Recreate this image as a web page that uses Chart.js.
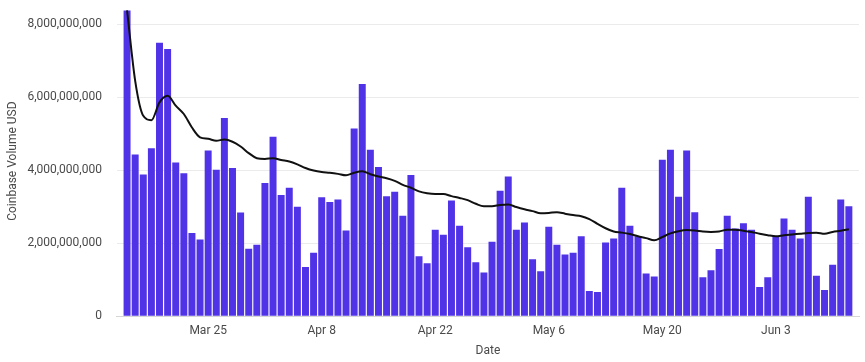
<!DOCTYPE html>
<html>
<head>
<meta charset="utf-8">
<script src="https://cdn.jsdelivr.net/npm/chart.js@4/dist/chart.umd.min.js"></script>
<style>
  html, body { margin: 0; padding: 0; background: #fff; }
  #wrap { width: 865px; height: 362px; }
</style>
</head>
<body>
<div id="wrap"><canvas id="volumeChart"></canvas></div>
<script>
// daily volume, billions USD, starting Mar 15
const startDate = "2022-03-15";
const dayCount = 90;

const volume = [
  8.38, 4.43, 3.88, 4.60, 7.49, 7.32, 4.21, 3.92, 2.28, 2.10,
  4.54, 4.01, 5.43, 4.06, 2.84, 1.85, 1.96, 3.65, 4.92, 3.32,
  3.52, 3.00, 1.35, 1.74, 3.26, 3.13, 3.20, 2.35, 5.14, 6.36,
  4.56, 4.09, 3.29, 3.41, 2.75, 3.87, 1.64, 1.45, 2.37, 2.23,
  3.17, 2.48, 1.89, 1.48, 1.20, 2.04, 3.44, 3.83, 2.37, 2.57,
  1.56, 1.23, 2.45, 1.96, 1.69, 1.74, 2.19, 0.69, 0.66, 2.02,
  2.13, 3.52, 2.48, 2.19, 1.17, 1.09, 4.29, 4.56, 3.27, 4.54,
  2.85, 1.07, 1.26, 1.84, 2.75, 2.40, 2.55, 2.37, 0.80, 1.07,
  2.20, 2.68, 2.37, 2.13, 3.27, 1.11, 0.72, 1.41, 3.20, 3.01
];

const trend = [
  8.38, 6.45, 5.49, 5.37, 5.86, 6.04, 5.77, 5.54, 5.17, 4.90,
  4.86, 4.81, 4.84, 4.78, 4.65, 4.47, 4.33, 4.31, 4.33, 4.28,
  4.24, 4.16, 4.06, 3.99, 3.95, 3.93, 3.90, 3.86, 3.93, 3.97,
  3.89, 3.83, 3.78, 3.71, 3.60, 3.52, 3.42, 3.37, 3.35, 3.35,
  3.29, 3.24, 3.18, 3.08, 3.01, 3.01, 3.05, 3.06, 2.99, 2.93,
  2.88, 2.82, 2.83, 2.85, 2.81, 2.77, 2.74, 2.66, 2.53, 2.41,
  2.32, 2.29, 2.25, 2.19, 2.14, 2.08, 2.17, 2.27, 2.33, 2.36,
  2.35, 2.32, 2.31, 2.32, 2.37, 2.37, 2.34, 2.31, 2.26, 2.22,
  2.19, 2.22, 2.24, 2.26, 2.28, 2.29, 2.26, 2.31, 2.34, 2.38
];

const tickLabels = ["Mar 25", "Apr 8", "Apr 22", "May 6", "May 20", "Jun 3"];
const yTicks = [0, 2e9, 4e9, 6e9, 8e9];

const months = ["Jan", "Feb", "Mar", "Apr", "May", "Jun", "Jul", "Aug", "Sep", "Oct", "Nov", "Dec"];
const dates = [];
for (let i = 0; i < dayCount; i++) {
  const d = new Date(startDate + "T00:00:00Z");
  d.setUTCDate(d.getUTCDate() + i);
  dates.push(months[d.getUTCMonth()] + " " + d.getUTCDate());
}
const tickIndex = tickLabels.map(l => dates.indexOf(l));

const font = { family: "Roboto, 'Noto Sans', sans-serif", size: 12 };
const textColor = "#4a4a4a";

new Chart(document.getElementById("volumeChart"), {
  data: {
    datasets: [
      {
        type: "line",
        data: trend.map((v, i) => ({ x: i, y: v * 1e9 })),
        borderColor: "#111",
        borderWidth: 2,
        pointRadius: 0,
        tension: 0.4,
        cubicInterpolationMode: "monotone",
        order: 0,
      },
      {
        type: "bar",
        data: volume.map((v, i) => ({ x: i, y: v * 1e9 })),
        backgroundColor: "#5033e6",
        barPercentage: 0.86,
        categoryPercentage: 1,
        order: 1,
      },
    ],
  },
  options: {
    responsive: true,
    maintainAspectRatio: false,
    animation: false,
    layout: { padding: { left: 6, right: 6, top: 0, bottom: 4 } },
    plugins: { legend: { display: false }, tooltip: { enabled: false } },
    scales: {
      x: {
        type: "linear",
        offset: false,
        min: -1.25,
        max: dayCount - 1 + 1.25,
        afterBuildTicks: axis => { axis.ticks = tickIndex.map(v => ({ value: v })); },
        grid: { display: false, offset: false },
        border: { display: true, color: "#d6d6d6" },
        ticks: {
          maxRotation: 0,
          padding: 0,
          color: textColor,
          font,
          callback: v => dates[v],
        },
        title: { display: true, text: "Date", color: textColor, font, padding: { top: 5, bottom: 0 } },
      },
      y: {
        min: 0,
        max: 8.5e9,
        afterBuildTicks: axis => { axis.ticks = yTicks.map(v => ({ value: v })); },
        grid: { color: "#ebebeb", drawTicks: true, tickLength: 15, tickColor: "rgba(0,0,0,0)" },
        border: { display: false },
        ticks: {
          padding: 0,
          color: textColor,
          font: { ...font, lineHeight: 1 },
          callback: v => v.toLocaleString("en-US"),
        },
        title: { display: true, text: "Coinbase Volume USD", color: textColor, font, padding: { top: 0, bottom: 7 } },
      },
    },
  },
});
</script>
</body>
</html>
